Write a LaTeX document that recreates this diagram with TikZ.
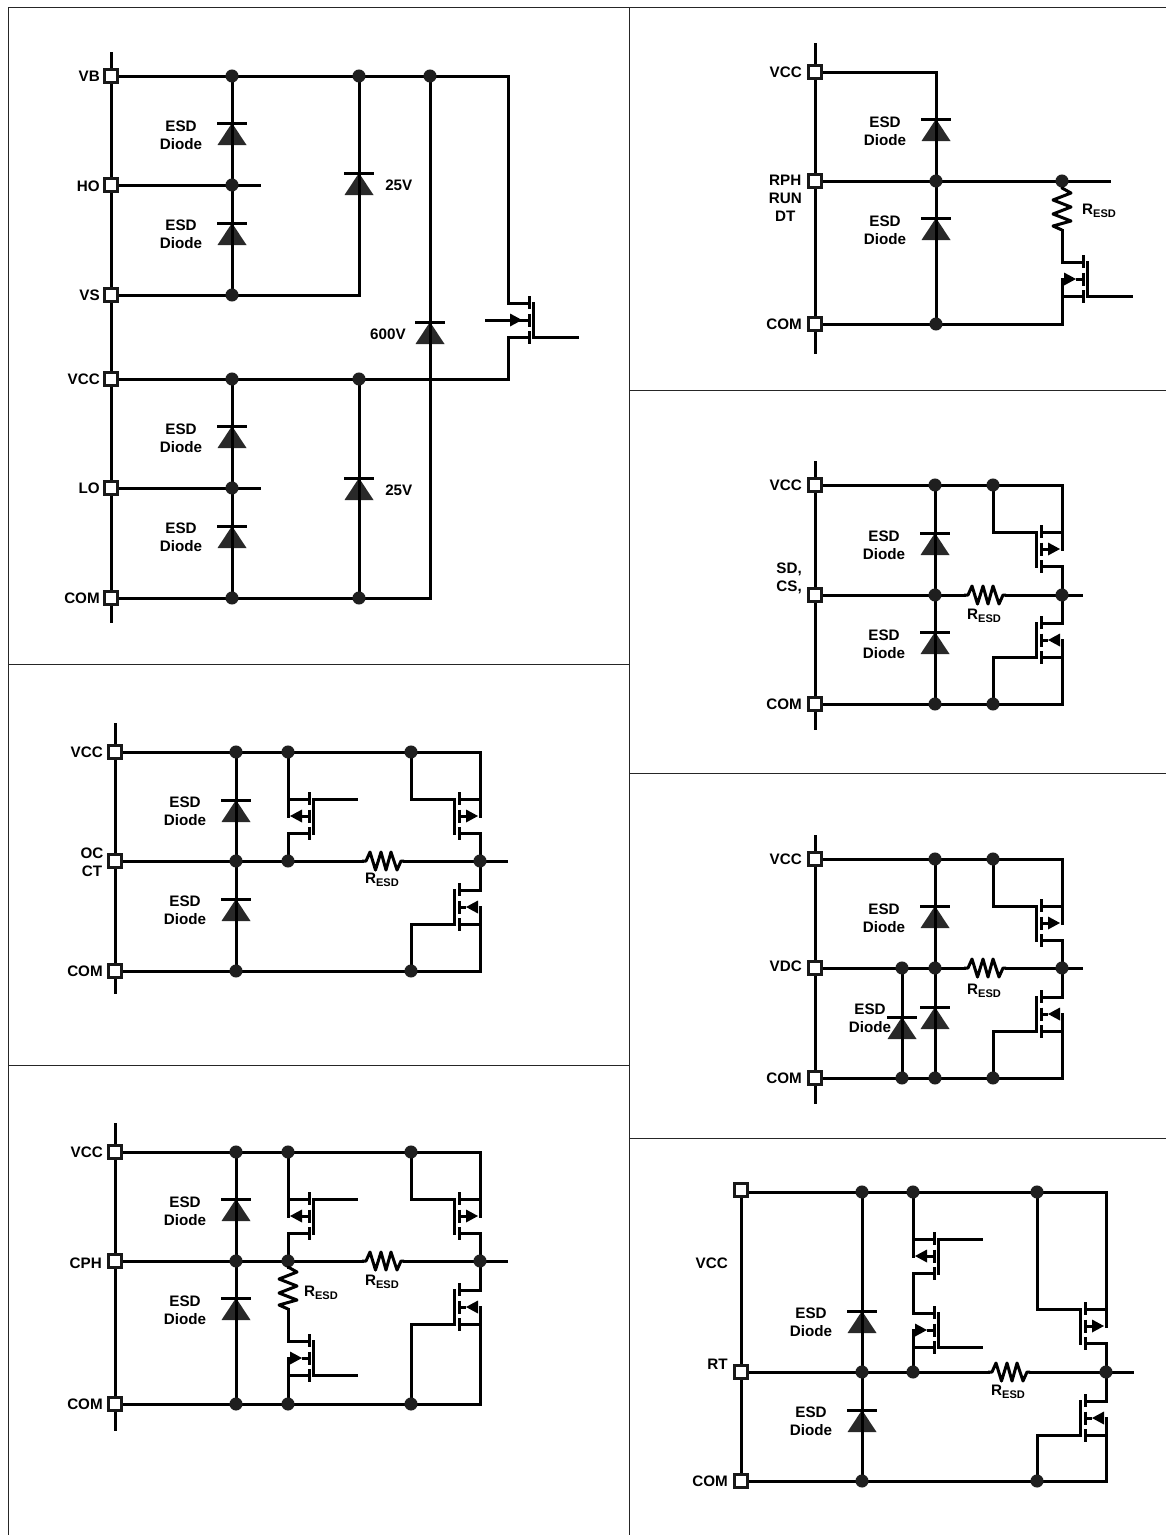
\documentclass[tikz,border=0pt]{standalone}
\usepackage{fontspec}
\setmainfont{Liberation Sans}
\usetikzlibrary{backgrounds}
\tikzset{
  wire/.style={line width=2.25pt,line cap=rect,line join=miter},
  frameline/.style={line width=0.65pt,color=black!85},
  pinbox/.style={draw=black!90,fill=white,line width=2.4pt,minimum size=10pt,inner sep=0pt,outer sep=0pt},
  junction/.style={circle,fill=black!88,minimum size=9.8pt,inner sep=0pt,outer sep=0pt},
  lbl/.style={font=\fontsize{11.4}{13.5}\selectfont\bfseries,align=center,inner sep=0pt},
  diodefill/.style={fill=black!84},
}
\newcounter{lb}
\newcommand\txt[4]{\stepcounter{lb}\node[lbl,anchor=#1] (lb\thelb) at (#2,#3) {#4};}
\newcommand\esd[2]{\txt{center}{#1}{#2}{ESD\\Diode}}
\newcommand\resd[3]{\txt{center}{#1}{#2}{R\raisebox{-0.3ex}{\fontsize{8.3}{8.3}\selectfont ESD}}}
\newcommand\pin[3]{\node[pinbox] (#1) at (#2,#3) {};}
\newcommand\jn[3]{\node[junction] (#1) at (#2,#3) {};}
\newcommand\free[3]{\coordinate (#1) at (#2,#3);}
% diode: name, x, y of the bar
\newcommand\diode[3]{%
  \coordinate (#1) at (#2,{#3+10});
  \begin{pgfonlayer}{background}
  \fill[diodefill] (#2,#3) -- ({#2+14.5},{#3+22}) -- ({#2-14.5},{#3+22}) -- cycle;
  \end{pgfonlayer}
  \draw[wire,line cap=butt] ({#2-15},#3) -- ({#2+15},#3);}
% horizontal resistor: name, x centre, y
\newcommand\resh[3]{%
  \coordinate (#1-a) at ({#2-21},#3);
  \coordinate (#1-b) at ({#2+21},#3);
  \draw[wire,line cap=butt,line join=round] (#1-a) -- ({#2-17},#3) -- ({#2-13},{#3-9}) -- ({#2-7.5},{#3+9}) -- ({#2-2},{#3-9}) -- ({#2+3},{#3+9}) -- ({#2+8},{#3-9}) -- ({#2+14},{#3+9}) -- ({#2+18},#3) -- (#1-b);}
% vertical resistor: name, x, y top
\newcommand\resv[3]{%
  \coordinate (#1-a) at (#2,#3);
  \coordinate (#1-b) at (#2,{#3+43});
  \draw[wire,line cap=butt,line join=round] (#1-a) -- (#2,{#3+1}) -- ({#2+9},{#3+6}) -- ({#2-9},{#3+13}) -- ({#2+9},{#3+20}) -- ({#2-9},{#3+27}) -- ({#2+9},{#3+34}) -- ({#2-9},{#3+39}) -- (#1-b);}
% mosfet: name, channel x, middle y, side of the wires (1 or -1), arrow tip offset (7 in, 19 out)
\newcommand\mosfet[5]{%
  \coordinate (#1-t) at ({#2+21*#4},{#3-17});
  \coordinate (#1-m) at ({#2+21*#4},#3);
  \coordinate (#1-b) at ({#2+21*#4},{#3+17});
  \coordinate (#1-ct) at (#2,{#3-17});
  \coordinate (#1-cm) at (#2,#3);
  \coordinate (#1-cb) at (#2,{#3+17});
  \coordinate (#1-gt) at ({#2-4.5*#4},{#3-17});
  \coordinate (#1-gb) at ({#2-4.5*#4},{#3+17});
  \draw[wire,line cap=butt] (#2,{#3-24}) -- (#2,{#3-11});
  \draw[wire,line cap=butt] (#2,{#3-6.5}) -- (#2,{#3+6.5});
  \draw[wire,line cap=butt] (#2,{#3+11}) -- (#2,{#3+24});
  \draw[wire] (#1-gt) -- (#1-gb);
  \draw[wire] (#1-ct) -- (#1-t);
  \draw[wire] (#1-cb) -- (#1-b);
  \draw[wire,line cap=butt] (#1-cm) -- ({#2+7*#4},#3);
  \fill ({#2+#5*#4},#3) -- ({#2+(26-#5)*#4},{#3-6.5}) -- ({#2+(26-#5)*#4},{#3+6.5}) -- cycle;}
\begin{document}
\begin{tikzpicture}[x=0.75pt,y=-0.75pt]
\useasboundingbox (0,0) rectangle (1166,1535);
% ---------- frame
\free{f1}{8}{7}\free{f2}{1166}{7}\free{f3}{8}{1535}\free{f4}{629}{7}\free{f5}{629}{1535}
\free{f6}{8}{664}\free{f7}{629}{664}\free{f8}{8}{1065}\free{f9}{629}{1065}
\free{f10}{629}{390}\free{f11}{1166}{390}\free{f12}{629}{773}\free{f13}{1166}{773}\free{f14}{629}{1138}\free{f15}{1166}{1138}
\draw[frameline] (f3) -- (f1) -- (f2);
\draw[frameline] (f4) -- (f5);
\draw[frameline] (f6) -- (f7);
\draw[frameline] (f8) -- (f9);
\draw[frameline] (f10) -- (f11);
\draw[frameline] (f12) -- (f13);
\draw[frameline] (f14) -- (f15);
% ---------- panel A : bootstrap
\pin{aVB}{111}{76}\pin{aHO}{111}{185}\pin{aVS}{111}{295}\pin{aVC}{111}{379}\pin{aLO}{111}{488}\pin{aCO}{111}{598}
\jn{aB1}{232}{76}\jn{aB2}{359}{76}\jn{aB3}{430}{76}
\jn{aH1}{232}{185}\jn{aS1}{232}{295}
\jn{aC1}{232}{379}\jn{aC2}{359}{379}
\jn{aL1}{232}{488}\jn{aO1}{232}{598}\jn{aO2}{359}{598}
\free{aT}{111}{53}\free{aB}{111}{621}\free{aHe}{259}{185}\free{aLe}{259}{488}\free{aO3}{430}{598}\free{aS2}{359}{295}
\free{aGi}{486}{320}\free{aGo}{577}{337}
\diode{aD1}{232}{123}\diode{aD2}{232}{223}\diode{aD3}{232}{426}\diode{aD4}{232}{526}
\diode{aD5}{359}{173}\diode{aD6}{359}{478}\diode{aD7}{430}{322}
\mosfet{aM}{529}{320}{-1}{7}
\begin{pgfonlayer}{background}
\draw[wire] (aT) -- (aB);
\draw[wire] (aVB) -- (aB3);
\draw[wire] (aB3) -| (aM-t);
\draw[wire] (aB1) -- (aS1);
\draw[wire] (aB2) -- (aS2);
\draw[wire] (aHO) -- (aHe);
\draw[wire] (aVS) -- (aS2);
\draw[wire] (aVC) -- (aC2);
\draw[wire] (aC2) -| (aM-b);
\draw[wire] (aB3) -- (aO3);
\draw[wire] (aC1) -- (aO1);
\draw[wire] (aC2) -- (aO2);
\draw[wire] (aLO) -- (aLe);
\draw[wire] (aCO) -- (aO3);
\draw[wire] (aGi) -- (aM-cm);
\draw[wire] (aM-gb) -- (aGo);
\end{pgfonlayer}
\txt{east}{100}{76}{VB}\txt{east}{100}{186}{HO}\txt{east}{100}{295}{VS}\txt{east}{100}{379}{VCC}\txt{east}{100}{488}{LO}\txt{east}{100}{598}{COM}
\esd{181}{135}\esd{181}{234}\esd{181}{438}\esd{181}{537}
\txt{west}{385}{185}{25V}\txt{west}{385}{490}{25V}\txt{east}{406}{334}{600V}
% ---------- panel B : OC / CT
\pin{bV}{115}{752}\pin{bO}{115}{861}\pin{bC}{115}{971}
\jn{bV1}{236}{752}\jn{bV2}{288}{752}\jn{bV3}{411}{752}
\jn{bO1}{236}{861}\jn{bO2}{288}{861}\jn{bO3}{480}{861}
\jn{bC1}{236}{971}\jn{bC2}{411}{971}
\free{bT}{115}{724}\free{bB}{115}{992}\free{bE}{506}{861}\free{bG}{356}{799}\free{bC3}{480}{971}
\diode{bD1}{236}{800}\diode{bD2}{236}{899}
\resh{bR}{383}{861}
\mosfet{bM1}{309}{816}{-1}{19}\mosfet{bM2}{459}{816}{1}{19}\mosfet{bM3}{459}{907}{1}{7}
\begin{pgfonlayer}{background}
\draw[wire] (bT) -- (bB);
\draw[wire] (bV) -- (bV3);
\draw[wire] (bV3) -| (bM2-m);
\draw[wire] (bV1) -- (bC1);
\draw[wire] (bV2) -- (bM1-m);
\draw[wire] (bM1-b) -- (bO2);
\draw[wire] (bO) -- (bR-a);
\draw[wire] (bR-b) -- (bE);
\draw[wire] (bM2-b) -- (bO3);
\draw[wire] (bO3) -- (bM3-t);
\draw[wire] (bC) -- (bC3) -- (bM3-m);
\draw[wire] (bV3) |- (bM2-gt);
\draw[wire] (bC2) |- (bM3-gb);
\draw[wire] (bM1-gt) -- (bG);
\end{pgfonlayer}
\txt{east}{103}{752}{VCC}\txt{center}{92}{862}{OC\\CT}\txt{east}{103}{971}{COM}
\esd{185}{811}\esd{185}{910}\resd{382}{880}{}
% ---------- panel C : CPH
\pin{cV}{115}{1152}\pin{cO}{115}{1261}\pin{cC}{115}{1404}
\jn{cV1}{236}{1152}\jn{cV2}{288}{1152}\jn{cV3}{411}{1152}
\jn{cO1}{236}{1261}\jn{cO2}{288}{1261}\jn{cO3}{480}{1261}
\jn{cC1}{236}{1404}\jn{cC2}{288}{1404}\jn{cC3}{411}{1404}
\free{cT}{115}{1124}\free{cB}{115}{1429}\free{cE}{506}{1261}\free{cG}{356}{1199}\free{cG2}{356}{1375}\free{cC4}{480}{1404}
\diode{cD1}{236}{1199}\diode{cD2}{236}{1298}
\resh{cR}{383}{1261}\resv{cS}{288}{1266}
\mosfet{cM1}{309}{1216}{-1}{19}\mosfet{cM2}{459}{1216}{1}{19}\mosfet{cM3}{459}{1307}{1}{7}\mosfet{cM4}{309}{1358}{-1}{7}
\begin{pgfonlayer}{background}
\draw[wire] (cT) -- (cB);
\draw[wire] (cV) -- (cV3);
\draw[wire] (cV3) -| (cM2-m);
\draw[wire] (cV1) -- (cC1);
\draw[wire] (cV2) -- (cM1-m);
\draw[wire] (cM1-b) -- (cO2);
\draw[wire] (cO) -- (cR-a);
\draw[wire] (cR-b) -- (cE);
\draw[wire] (cM2-b) -- (cO3);
\draw[wire] (cO3) -- (cM3-t);
\draw[wire] (cC) -- (cC4) -- (cM3-m);
\draw[wire] (cV3) |- (cM2-gt);
\draw[wire] (cC3) |- (cM3-gb);
\draw[wire] (cM1-gt) -- (cG);
\draw[wire] (cO2) -- (cS-a);
\draw[wire] (cS-b) -- (cM4-t);
\draw[wire] (cM4-m) -- (cC2);
\draw[wire] (cM4-gb) -- (cG2);
\end{pgfonlayer}
\txt{east}{103}{1152}{VCC}\txt{east}{102}{1263}{CPH}\txt{east}{103}{1404}{COM}
\esd{185}{1211}\esd{185}{1310}\resd{382}{1282}{}
\txt{center}{321}{1293}{R\raisebox{-0.3ex}{\fontsize{8.3}{8.3}\selectfont ESD}}
% ---------- panel D : RPH
\pin{dV}{815}{72}\pin{dO}{815}{181}\pin{dC}{815}{324}
\jn{dO1}{936}{181}\jn{dO2}{1062}{181}\jn{dC1}{936}{324}
\free{dT}{815}{44}\free{dB}{815}{352}\free{dE}{1109}{181}\free{dV1}{936}{72}\free{dC2}{1062}{324}\free{dG}{1131}{296}
\diode{dD1}{936}{119}\diode{dD2}{936}{218}
\resv{dS}{1062}{187}
\mosfet{dM}{1083}{279}{-1}{7}
\begin{pgfonlayer}{background}
\draw[wire] (dT) -- (dB);
\draw[wire] (dV) -- (dV1) -- (dC1);
\draw[wire] (dO) -- (dE);
\draw[wire] (dC) -- (dC2) -- (dM-m);
\draw[wire] (dO2) -- (dS-a);
\draw[wire] (dS-b) -- (dM-t);
\draw[wire] (dM-gb) -- (dG);
\end{pgfonlayer}
\txt{east}{802}{72}{VCC}\txt{east}{802}{198.5}{RPH\\RUN\\DT}\txt{east}{802}{324}{COM}
\esd{885}{131}\esd{885}{230}
\txt{center}{1099}{211}{R\raisebox{-0.3ex}{\fontsize{8.3}{8.3}\selectfont ESD}}
% ---------- panel E : SD, CS
\pin{eV}{815}{485}\pin{eO}{815}{595}\pin{eC}{815}{704}
\jn{eV1}{935}{485}\jn{eV2}{993}{485}
\jn{eO1}{935}{595}\jn{eO2}{1062}{595}
\jn{eC1}{935}{704}\jn{eC2}{993}{704}
\free{eT}{815}{462}\free{eB}{815}{728}\free{eE}{1081}{595}\free{eC3}{1062}{704}
\diode{eD1}{935}{533}\diode{eD2}{935}{632}
\resh{eR}{985}{595}
\mosfet{eM1}{1041}{549}{1}{19}\mosfet{eM2}{1041}{640}{1}{7}
\begin{pgfonlayer}{background}
\draw[wire] (eT) -- (eB);
\draw[wire] (eV) -- (eV2);
\draw[wire] (eV2) -| (eM1-m);
\draw[wire] (eV1) -- (eC1);
\draw[wire] (eO) -- (eR-a);
\draw[wire] (eR-b) -- (eE);
\draw[wire] (eM1-b) -- (eO2);
\draw[wire] (eO2) -- (eM2-t);
\draw[wire] (eC) -- (eC3) -- (eM2-m);
\draw[wire] (eV2) |- (eM1-gt);
\draw[wire] (eC2) |- (eM2-gb);
\end{pgfonlayer}
\txt{east}{802}{485}{VCC}\txt{east}{802}{578}{SD,\\CS,}\txt{east}{802}{704}{COM}
\esd{884}{545}\esd{884}{644}\resd{984}{616}{}
% ---------- panel F : VDC
\pin{fV}{815}{859}\pin{fO}{815}{968}\pin{fC}{815}{1078}
\jn{fV1}{935}{859}\jn{fV2}{993}{859}
\jn{fO0}{902}{968}\jn{fO1}{935}{968}\jn{fO2}{1062}{968}
\jn{fC0}{902}{1078}\jn{fC1}{935}{1078}\jn{fC2}{993}{1078}
\free{fT}{815}{836}\free{fB}{815}{1102}\free{fE}{1081}{968}\free{fC3}{1062}{1078}
\diode{fD1}{935}{906}\diode{fD2}{935}{1007}\diode{fD3}{902}{1017}
\resh{fR}{985}{968}
\mosfet{fM1}{1041}{923}{1}{19}\mosfet{fM2}{1041}{1014}{1}{7}
\begin{pgfonlayer}{background}
\draw[wire] (fT) -- (fB);
\draw[wire] (fV) -- (fV2);
\draw[wire] (fV2) -| (fM1-m);
\draw[wire] (fV1) -- (fC1);
\draw[wire] (fO0) -- (fC0);
\draw[wire] (fO) -- (fR-a);
\draw[wire] (fR-b) -- (fE);
\draw[wire] (fM1-b) -- (fO2);
\draw[wire] (fO2) -- (fM2-t);
\draw[wire] (fC) -- (fC3) -- (fM2-m);
\draw[wire] (fV2) |- (fM1-gt);
\draw[wire] (fC2) |- (fM2-gb);
\end{pgfonlayer}
\txt{east}{802}{859}{VCC}\txt{east}{802}{966}{VDC}\txt{east}{802}{1078}{COM}
\esd{884}{918}\esd{870}{1018}\resd{984}{991}{}
% ---------- panel G : RT
\pin{gV}{741}{1190}\pin{gO}{741}{1372}\pin{gC}{741}{1481}
\jn{gV1}{862}{1192}\jn{gV2}{913}{1192}\jn{gV3}{1037}{1192}
\jn{gO1}{862}{1372}\jn{gO2}{913}{1372}\jn{gO3}{1106}{1372}
\jn{gC1}{862}{1481}\jn{gC2}{1037}{1481}
\free{gVe}{741}{1192}\free{gE}{1132}{1372}\free{gC3}{1106}{1481}\free{gG1}{981}{1239}\free{gG2}{981}{1347}
\diode{gD1}{862}{1311}\diode{gD2}{862}{1410}
\resh{gR}{1009}{1372}
\mosfet{gM1}{934}{1256}{-1}{19}\mosfet{gM2}{934}{1330}{-1}{7}
\mosfet{gM3}{1085}{1326}{1}{19}\mosfet{gM4}{1085}{1418}{1}{7}
\begin{pgfonlayer}{background}
\draw[wire] (gV) -- (gC);
\draw[wire] (gVe) -- (gV3);
\draw[wire] (gV3) -| (gM3-m);
\draw[wire] (gV1) -- (gC1);
\draw[wire] (gV2) -- (gM1-m);
\draw[wire] (gM1-b) -- (gM2-t);
\draw[wire] (gM2-m) -- (gO2);
\draw[wire] (gM1-gt) -- (gG1);
\draw[wire] (gM2-gb) -- (gG2);
\draw[wire] (gO) -- (gR-a);
\draw[wire] (gR-b) -- (gE);
\draw[wire] (gM3-b) -- (gO3);
\draw[wire] (gO3) -- (gM4-t);
\draw[wire] (gC) -- (gC3) -- (gM4-m);
\draw[wire] (gV3) |- (gM3-gt);
\draw[wire] (gC2) |- (gM4-gb);
\end{pgfonlayer}
\txt{east}{728}{1263}{VCC}\txt{east}{728}{1364}{RT}\txt{east}{728}{1481}{COM}
\esd{811}{1322}\esd{811}{1421}\resd{1008}{1392}{}
\end{tikzpicture}
\end{document}
